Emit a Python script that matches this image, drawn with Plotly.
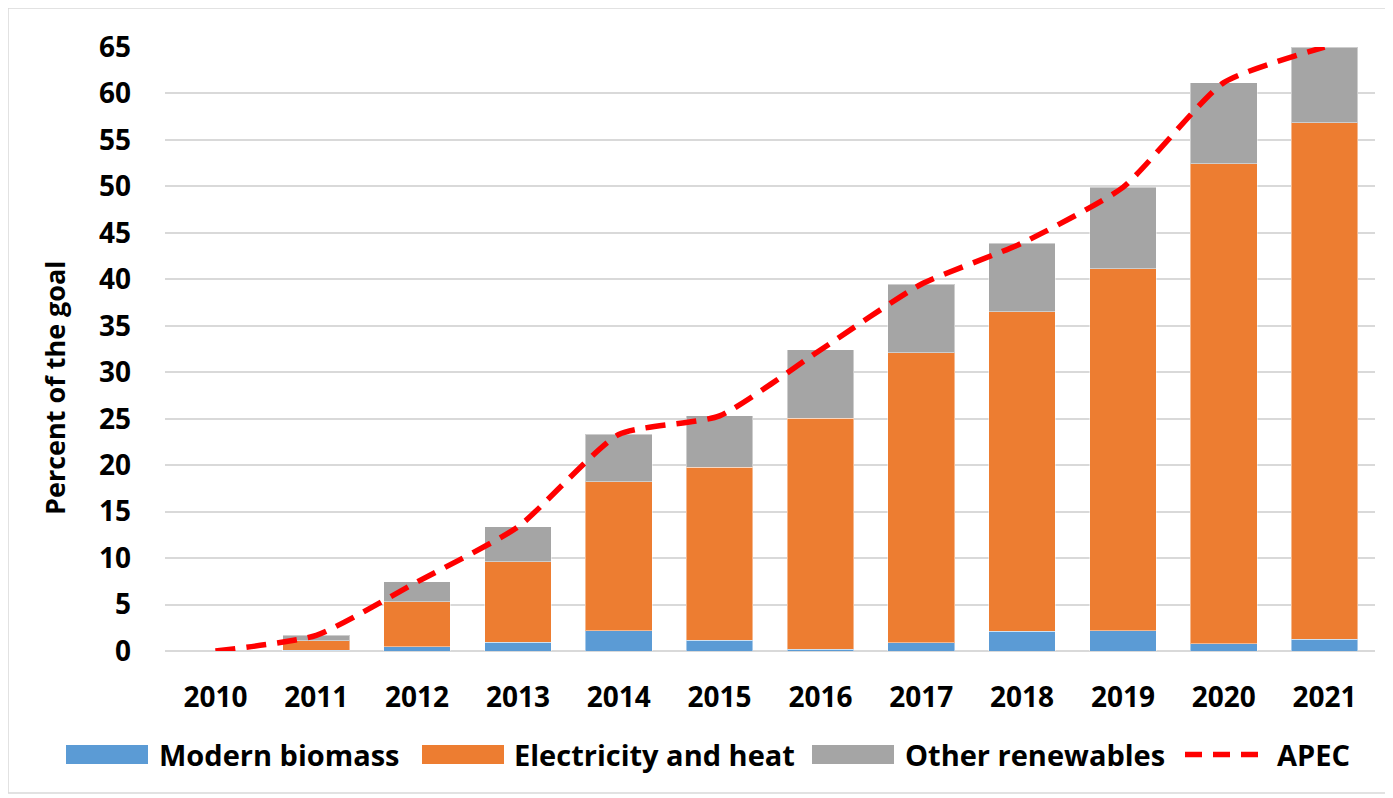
import plotly.graph_objects as go

years = ["2010", "2011", "2012", "2013", "2014", "2015", "2016", "2017", "2018", "2019", "2020", "2021"]
modern_biomass = [0.0, 0.1, 0.47, 0.94, 2.2, 1.15, 0.2, 0.9, 2.12, 2.19, 0.79, 1.28]
electricity_heat = [0.0, 0.98, 4.84, 8.66, 16.0, 18.6, 24.85, 31.2, 34.38, 38.96, 51.67, 55.58]
other_renewables = [0.0, 0.61, 2.12, 3.75, 5.1, 5.55, 7.35, 7.37, 7.4, 8.75, 8.71, 8.14]
apec = [0.0, 1.69, 7.43, 13.35, 23.3, 25.3, 32.4, 39.47, 43.9, 49.9, 61.17, 65.0]
y_ticks = list(range(0, 66, 5))

series_names = ["Modern biomass", "Electricity and heat", "Other renewables", "APEC"]
colors = ["#5B9BD5", "#ED7D31", "#A5A5A5", "#FF0000"]

FONT = "Open Sans"
TICK = dict(family=FONT, size=28, color="black", weight="bold")
LEG = dict(family=FONT, size=29, color="black", weight="bold")

# screen geometry of plot area (page has 8px body offset)
PL, PR, PT, PB = 165, 1375, 47, 651
OFF = 8
W, H = 1393, 798


def sx(x):
    return (x - PL) / (PR - PL)


def sy(y):
    return (PB - y) / (PB - PT)


edge = dict(color="rgba(255,255,255,0.45)", width=1)

fig = go.Figure()
for name, vals, col in zip(series_names[:3], [modern_biomass, electricity_heat, other_renewables], colors[:3]):
    fig.add_trace(go.Bar(x=years, y=vals, name=name, marker=dict(color=col, line=edge)))
fig.add_trace(go.Scatter(x=years, y=apec, name=series_names[3], mode="lines",
                         line=dict(color=colors[3], width=5.5, dash="20px,11px", shape="spline", smoothing=0.55)))

shapes = [dict(type="rect", xref="paper", yref="paper",
               x0=sx(8), x1=sx(1386), y0=sy(793), y1=sy(8),
               line=dict(color="#D9D9D9", width=1.5), fillcolor="rgba(0,0,0,0)", layer="below")]
annotations = []

# legend (custom, to reproduce wide swatches)
LY = 754.5
legend_items = [
    (66, 148, 157),
    (422, 504, 512),
    (812, 894, 903),
]
for (x0, x1, tx), name, col in zip(legend_items, series_names[:3], colors[:3]):
    shapes.append(dict(type="rect", xref="paper", yref="paper", x0=sx(x0), x1=sx(x1),
                       y0=sy(LY + 9.5), y1=sy(LY - 9.5), fillcolor=col, line=dict(width=0)))
    annotations.append(dict(xref="paper", yref="paper", x=sx(tx), y=sy(LY), text=name,
                            showarrow=False, xanchor="left", yanchor="middle", font=LEG))
shapes.append(dict(type="line", xref="paper", yref="paper", x0=sx(1185), x1=sx(1262),
                   y0=sy(LY), y1=sy(LY), line=dict(color=colors[3], width=5.5, dash="17px,11px")))
annotations.append(dict(xref="paper", yref="paper", x=sx(1275), y=sy(LY), text=series_names[3],
                        showarrow=False, xanchor="left", yanchor="middle", font=LEG))
# y-axis title
annotations.append(dict(xref="paper", yref="paper", x=sx(55), y=sy(388), text="Percent of the goal",
                        textangle=-90, showarrow=False, xanchor="center", yanchor="middle",
                        font=dict(family=FONT, size=27, color="black", weight="bold")))

fig.update_layout(
    barmode="stack",
    bargap=0.34,
    width=W, height=H,
    paper_bgcolor="white", plot_bgcolor="white",
    margin=dict(l=PL - OFF, r=W - (PR - OFF), t=PT - OFF, b=H - (PB - OFF)),
    font=dict(family=FONT, size=28, color="black"),
    showlegend=False,
    xaxis=dict(type="category", showgrid=False, showline=False, ticks="",
               tickfont=TICK, ticklabelstandoff=27),
    yaxis=dict(range=[0, 65], tickvals=y_ticks, showgrid=True, gridcolor="#D9D9D9", gridwidth=1.5,
               zeroline=True, zerolinecolor="#D9D9D9", zerolinewidth=1.5,
               tickfont=TICK, ticklabelstandoff=33),
    shapes=shapes,
    annotations=annotations,
)

fig.write_html("out.html")
